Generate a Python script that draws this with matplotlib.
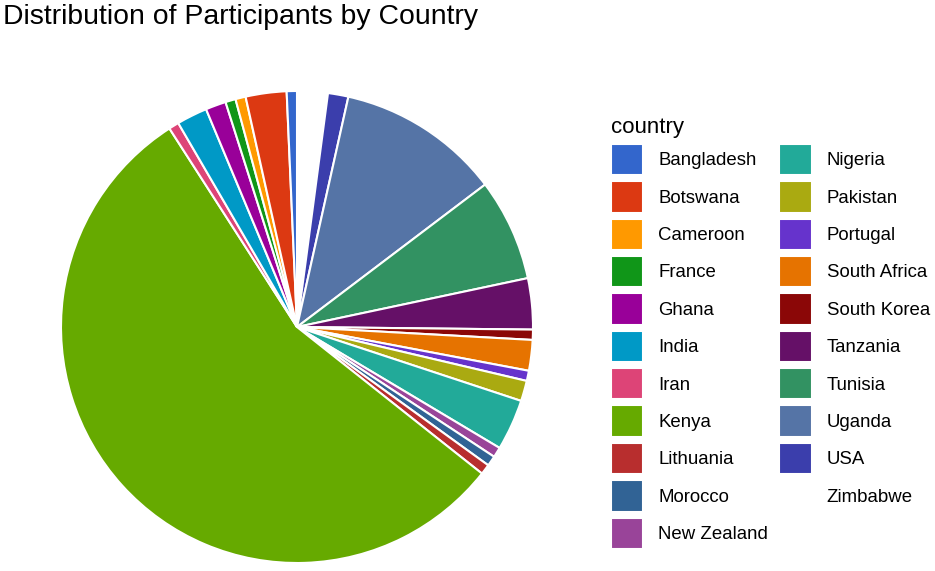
import matplotlib.pyplot as plt

countries = ["Bangladesh", "Botswana", "Cameroon", "France", "Ghana", "India",
             "Iran", "Kenya", "Lithuania", "Morocco", "New Zealand", "Nigeria",
             "Pakistan", "Portugal", "South Africa", "South Korea", "Tanzania",
             "Tunisia", "Uganda", "USA", "Zimbabwe"]
counts = [1, 4, 1, 1, 2, 3, 1, 79, 1, 1, 1, 5, 2, 1, 3, 1, 5, 10, 16, 2, 3]
colors = ["#3366CC", "#DC3912", "#FF9900", "#109618", "#990099", "#0099C6",
          "#DD4477", "#66AA00", "#B82E2E", "#316395", "#994499", "#22AA99",
          "#AAAA11", "#6633CC", "#E67300", "#8B0707", "#651067", "#329262",
          "#5574A6", "#3B3EAC", "#FFFFFF"]


def main():
    plt.rcParams["font.family"] = ["Liberation Sans", "DejaVu Sans"]

    fig = plt.figure(figsize=(9.35, 5.71), dpi=100)
    ax = fig.add_axes([61 / 935, 8 / 571, 472 / 935, 472 / 571])

    # ggplot polar: last level starts at 12 o'clock, going clockwise
    wedges, _ = ax.pie(counts[::-1], colors=colors[::-1], startangle=90,
                       counterclock=False, radius=1,
                       wedgeprops=dict(edgecolor="white", linewidth=1.5))
    ax.set_xlim(-1, 1)
    ax.set_ylim(-1, 1)
    ax.set_aspect("equal")
    ax.axis("off")

    handles = wedges[::-1]
    fig.legend(handles, countries, title="country", ncol=2,
               loc="upper left", bbox_to_anchor=(596 / 935, 1 - 102 / 571),
               frameon=False, fontsize=13.4, title_fontsize=16,
               handlelength=1.75, handleheight=2.22, labelspacing=0.32,
               handletextpad=0.8, columnspacing=0.6, borderpad=0.3,
               alignment="left")

    fig.text(3 / 935, 1 - 4 / 571, "Distribution of Participants by Country",
             fontsize=20.4, ha="left", va="top")

    fig.savefig("out.png", dpi=100)


if __name__ == "__main__":
    main()
